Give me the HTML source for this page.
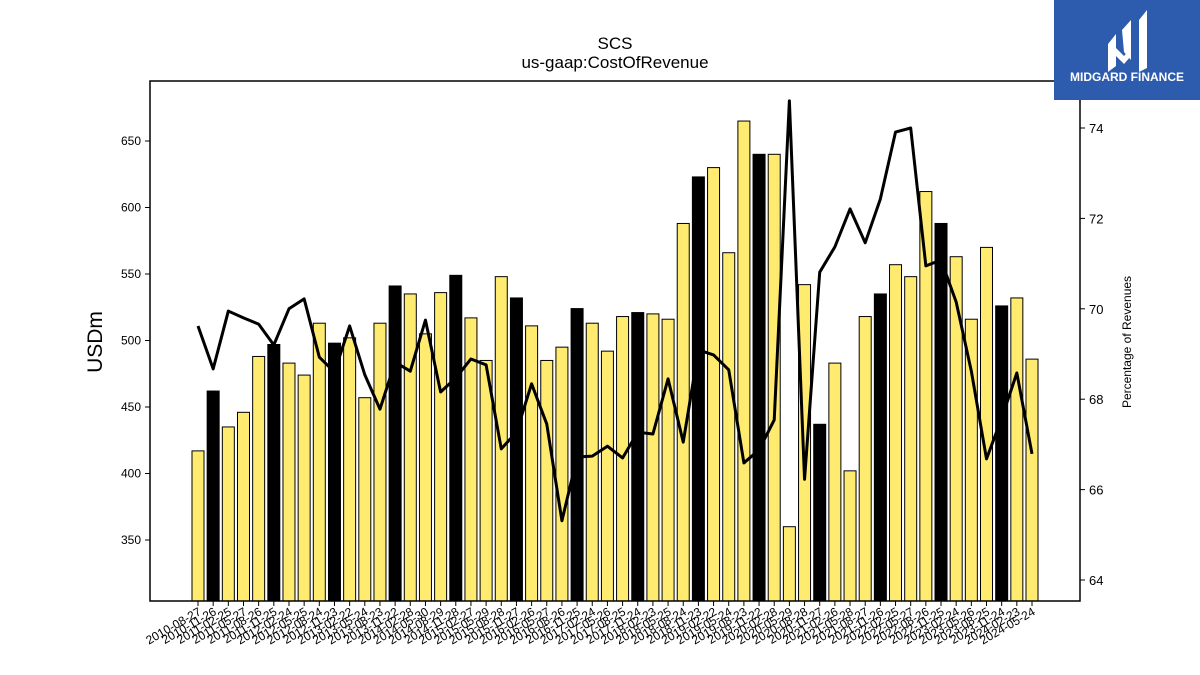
<!DOCTYPE html>
<html><head><meta charset="utf-8"><style>
body{margin:0;background:#fff;font-family:"Liberation Sans","DejaVu Sans",sans-serif}
svg{display:block}
</style></head><body>
<svg id="c" width="1200" height="675" xmlns="http://www.w3.org/2000/svg">
<rect width="1200" height="675" fill="#fff"/>
<text x="615" y="49" font-size="17" text-anchor="middle">SCS</text>
<text x="615" y="68" font-size="17" text-anchor="middle">us-gaap:CostOfRevenue</text>
<text transform="translate(102,342) rotate(-90)" font-size="21" text-anchor="middle">USDm</text>
<text transform="translate(1131,342) rotate(-90)" font-size="12" text-anchor="middle">Percentage of Revenues</text>
<g id="bars"></g>
<g id="line"></g>
<g id="axes"></g>
<rect x="150" y="81" width="930" height="520" fill="none" stroke="#000" stroke-width="1.5"/>
<g>
<rect x="1054" y="0" width="146" height="100" fill="#2d5bad"/>
<path d="M1108 44 L1116 34 L1116 66 L1108 72 Z M1122 30 L1131 20 L1131 60 L1124 52 Z M1139 20 L1147 10 L1147 68 L1139 72 Z M1116 48 L1124 56 L1131 48 L1131 56 L1124 64 L1116 56 Z" fill="#fff"/>
<text x="1127" y="81" font-size="12" font-weight="bold" fill="#fff" text-anchor="middle">MIDGARD FINANCE</text>
</g>
</svg>
<script>
const dates=["2010-08-27","2010-11-26","2011-02-25","2011-05-27","2011-08-26","2011-11-25","2012-02-24","2012-05-25","2012-08-24","2012-11-23","2013-02-22","2013-05-24","2013-08-23","2013-11-22","2014-02-28","2014-05-30","2014-08-29","2014-11-28","2015-02-27","2015-05-29","2015-08-28","2015-11-27","2016-02-26","2016-05-27","2016-08-26","2016-11-25","2017-02-24","2017-05-26","2017-08-25","2017-11-24","2018-02-23","2018-05-25","2018-08-24","2018-11-23","2019-02-22","2019-05-24","2019-08-23","2019-11-22","2020-02-28","2020-05-29","2020-08-28","2020-11-27","2021-02-26","2021-05-28","2021-08-27","2021-11-26","2022-02-25","2022-05-27","2022-08-26","2022-11-25","2023-02-24","2023-05-26","2023-08-25","2023-11-24","2024-02-23","2024-05-24"];
const cost=[417,462,435,446,488,497,483,474,513,498,502,457,513,541,535,505,536,549,517,485,548,532,511,485,495,524,513,492,518,521,520,516,588,623,630,566,665,640,640,360,542,437,483,402,518,535,557,548,612,588,563,516,570,526,532,486];
const pct=[69.62,68.67,69.95,69.80,69.66,69.20,70.00,70.22,68.93,68.60,69.62,68.54,67.78,68.82,68.62,69.75,68.16,68.47,68.89,68.76,66.90,67.27,68.34,67.45,65.31,66.72,66.74,66.96,66.70,67.27,67.23,68.45,67.05,69.09,68.98,68.65,66.59,66.88,67.54,74.60,66.23,70.81,71.37,72.21,71.46,72.43,73.91,74.00,70.95,71.08,70.15,68.62,66.68,67.58,68.58,66.79];
const leftTicks=[350,400,450,500,550,600,650];
const rightTicks=[64,66,68,70,72,74];
const NS="http://www.w3.org/2000/svg";
const X0=198,DX=(1032-198)/55;
const xs=i=>X0+i*DX;
const yL=v=>540-(v-350)*1.33;
const yR=v=>580-(v-64)*45.2;
function mk(t,a,p){const e=document.createElementNS(NS,t);for(const k in a)e.setAttribute(k,a[k]);p.appendChild(e);return e;}
const bars=document.getElementById('bars');
cost.forEach((v,i)=>{
 const q4=i%4===1;
 const r=mk('rect',{x:xs(i)-6,y:yL(v),width:12,height:601-yL(v),fill:q4?'#000':'#ffeb70',stroke:'#000','stroke-width':1},bars);
 
 
});
const ln=document.getElementById('line');
const pl=mk('polyline',{points:pct.map((v,i)=>xs(i)+','+yR(v)).join(' '),fill:'none',stroke:'#000','stroke-width':3,'stroke-linejoin':'round'},ln);


const ax=document.getElementById('axes');
leftTicks.forEach(v=>{
 mk('line',{x1:145,x2:150,y1:yL(v),y2:yL(v),stroke:'#000'},ax);
 const t=mk('text',{x:141,y:yL(v)+4,'font-size':12,'text-anchor':'end'},ax);t.textContent=v;
 
 
});
rightTicks.forEach(v=>{
 mk('line',{x1:1080,x2:1085,y1:yR(v),y2:yR(v),stroke:'#000'},ax);
 const t=mk('text',{x:1089,y:yR(v)+5,'font-size':13},ax);t.textContent=v;
 
 
});
dates.forEach((d,i)=>{
 const x=xs(i);
 mk('line',{x1:x,x2:x,y1:601,y2:606,stroke:'#000'},ax);
 const t=mk('text',{transform:`translate(${x+4},${614}) rotate(-30)`,'font-size':12,'text-anchor':'end'},ax);t.textContent=d;
 
 
});
</script>
</body></html>
